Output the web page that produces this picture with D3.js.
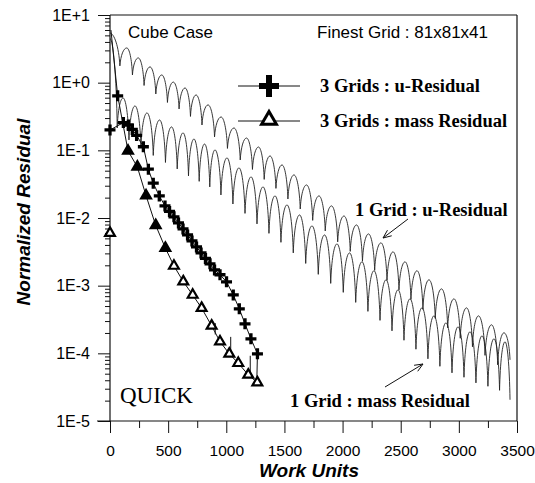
<!DOCTYPE html>
<html>
<head>
<meta charset="utf-8">
<script src="https://cdn.jsdelivr.net/npm/d3@7"></script>
<style>
  body { margin: 0; background: #fff; }
  svg { display: block; }
</style>
</head>
<body>
<svg></svg>
<script>
// axis ticks
const xTicks = [0, 500, 1000, 1500, 2000, 2500, 3000, 3500];
const xMinor = [250, 750, 1250, 1750, 2250, 2750, 3250];
const yTicks = [1e1, 1e0, 1e-1, 1e-2, 1e-3, 1e-4, 1e-5];
const yTickLabels = ['1E+1', '1E+0', '1E-1', '1E-2', '1E-3', '1E-4', '1E-5'];

// 3 grids : u-residual  [work units, residual]
const u3Pts = [[0, 0.2], [115, 0.257], [158, 0.237], [192, 0.204], [229, 0.166], [287, 0.113],
  [330, 0.0526], [372, 0.0327], [424, 0.0212], [473, 0.0151], [512, 0.0125], [550, 0.0104],
  [589, 0.00847], [628, 0.0069], [667, 0.00562], [705, 0.00459], [744, 0.00374], [783, 0.00305],
  [821, 0.00253], [860, 0.0021], [899, 0.00171], [946, 0.00145], [1002, 0.00114], [1060, 0.00073],
  [1112, 0.000454], [1161, 0.000273], [1212, 0.000164], [1268, 0.0000984]];
const u3Tail = [[1268, 0.0000984], [1262, 0.000036]];
const u3Extra = [[66, 0.64]];

// 3 grids : mass residual
const m3Pts = [[155, 0.098], [235, 0.057], [310, 0.0214], [393, 0.0078], [476, 0.0036],
  [550, 0.00196], [630, 0.00115], [711, 0.00073], [788, 0.000466], [874, 0.000255],
  [946, 0.000149], [1026, 0.0000984], [1103, 0.0000716], [1189, 0.0000481], [1267, 0.000037]];
const m3Lead = [[8, 6.0], [66, 0.64], [155, 0.098]];
const m3Extra = [[0, 0.006]];
const m3Spikes = [[905, 0.00019, 0.00028], [1038, 0.000098, 0.000175], [1206, 0.00005, 0.000092]];

// 1 grid : u-residual (oscillating) – start, dips, peaks
const u1Start = [0, 5.4];
const u1Peaks = [[144, 3.26], [243, 2.32], [344, 1.71], [445, 1.30], [544, 1.02], [645, 0.835],
  [740, 0.658], [843, 0.469], [955, 0.311], [1066, 0.214], [1174, 0.152], [1277, 0.112],
  [1376, 0.0826], [1479, 0.0608], [1582, 0.0433], [1690, 0.0308], [1797, 0.0212], [1905, 0.0151],
  [2012, 0.0107], [2120, 0.0079], [2223, 0.00582], [2330, 0.00429], [2434, 0.00316], [2537, 0.00225],
  [2640, 0.00166], [2743, 0.00122], [2851, 0.000897], [2958, 0.000638], [3066, 0.00047],
  [3169, 0.000358], [3281, 0.000264], [3388, 0.000201]];
const u1Dips = [[85, 1.77], [193, 1.30], [293, 0.909], [394, 0.681], [494, 0.510], [594, 0.409],
  [692, 0.317], [791, 0.237], [899, 0.158], [1010, 0.1067], [1120, 0.0721], [1225, 0.0522],
  [1326, 0.0372], [1427, 0.0274], [1530, 0.0191], [1636, 0.0136], [1743, 0.00922], [1851, 0.00644],
  [1958, 0.00444], [2066, 0.00321], [2171, 0.00229], [2276, 0.00168], [2382, 0.0012], [2485, 0.000867],
  [2588, 0.000628], [2691, 0.000447], [2797, 0.000329], [2904, 0.000238], [3012, 0.000167],
  [3117, 0.000125], [3225, 0.0000933], [3334, 0.0000676], [3440, 0.0000802]];

// 1 grid : mass residual (oscillating)
const m1Start = [0, 4.5];
const m1Peaks = [[112, 0.594], [215, 0.453], [318, 0.357], [426, 0.281], [529, 0.222], [628, 0.181],
  [722, 0.147], [813, 0.124], [903, 0.1014], [1006, 0.0773], [1109, 0.055], [1213, 0.0405],
  [1316, 0.0288], [1419, 0.0212], [1522, 0.0156], [1630, 0.0111], [1737, 0.00764], [1845, 0.00562],
  [1952, 0.00414], [2060, 0.00305], [2167, 0.00225], [2270, 0.00166], [2374, 0.00122], [2477, 0.000867],
  [2580, 0.000638], [2683, 0.00047], [2786, 0.000358], [2889, 0.000282], [2993, 0.000246],
  [3096, 0.000208], [3199, 0.000181], [3302, 0.000164], [3397, 0.000148]];
const m1Dips = [[62, 0.214], [163, 0.1425], [266, 0.1104], [372, 0.0841], [477, 0.0662], [578, 0.0531],
  [675, 0.0419], [767, 0.0348], [858, 0.0288], [954, 0.0219], [1057, 0.0161], [1161, 0.0117],
  [1264, 0.00818], [1367, 0.00593], [1470, 0.00437], [1576, 0.00305], [1683, 0.00213], [1791, 0.00147],
  [1898, 0.00108], [2006, 0.000796], [2113, 0.000566], [2218, 0.000417], [2322, 0.000307],
  [2425, 0.000215], [2528, 0.000156], [2631, 0.000115], [2734, 0.000083], [2837, 0.0000643],
  [2941, 0.0000515], [3044, 0.0000443], [3147, 0.0000366], [3250, 0.0000326], [3350, 0.0000284],
  [3440, 0.0000206]];

const width = 535, height = 483;
const svg = d3.select('svg').attr('width', width).attr('height', height);
svg.append('rect').attr('width', width).attr('height', height).attr('fill', '#fff');

const x = d3.scaleLinear().domain([0, 3500]).range([110, 517]);
const y = d3.scaleLog().domain([1e-5, 10]).range([421, 15]);

const sans = 'Liberation Sans, Arial, sans-serif';
const serif = 'Liberation Serif, Times New Roman, serif';

// y axis, major + minor ticks
const yMinor = [];
yTicks.slice(1).forEach(d => { for (let k = 2; k <= 9; k++) yMinor.push(d * k); });

const yAxis = svg.append('g').attr('transform', 'translate(110,0)')
  .call(d3.axisLeft(y).tickValues(yTicks).tickFormat((d, i) => yTickLabels[i]).tickSize(12).tickPadding(8));
const yAxisMinor = svg.append('g').attr('transform', 'translate(110,0)')
  .call(d3.axisLeft(y).tickValues(yMinor).tickFormat('').tickSize(5));

const xAxis = svg.append('g').attr('transform', 'translate(0,421)')
  .call(d3.axisBottom(x).tickValues(xTicks).tickFormat(d3.format('d')).tickSize(12).tickPadding(12));
const xAxisMinor = svg.append('g').attr('transform', 'translate(0,421)')
  .call(d3.axisBottom(x).tickValues(xMinor).tickFormat('').tickSize(7));

[yAxis, yAxisMinor, xAxis, xAxisMinor].forEach(g => {
  g.select('.domain').remove();
  g.selectAll('line').attr('stroke', '#111').attr('stroke-width', 1);
  g.selectAll('text').attr('font-family', sans).attr('font-size', 16).attr('fill', '#000');
});
xAxis.selectAll('text').attr('font-size', 15.5);

// frame
const frame = svg.append('g').attr('stroke', '#111').attr('stroke-width', 1.2);
frame.append('line').attr('x1', 110).attr('x2', 110).attr('y1', 15).attr('y2', 421);
frame.append('line').attr('x1', 97).attr('x2', 517).attr('y1', 421).attr('y2', 421);
frame.append('line').attr('x1', 110).attr('x2', 517).attr('y1', 15).attr('y2', 15);
frame.append('line').attr('x1', 517).attr('x2', 517).attr('y1', 15).attr('y2', 421);

// axis titles
svg.append('text').attr('x', 309).attr('y', 477).attr('text-anchor', 'middle')
  .attr('font-family', sans).attr('font-size', 19).attr('font-weight', 'bold').attr('font-style', 'italic')
  .text('Work Units');
svg.append('text').attr('transform', 'translate(30,212) rotate(-90)').attr('text-anchor', 'middle')
  .attr('font-family', sans).attr('font-size', 19).attr('font-weight', 'bold').attr('font-style', 'italic')
  .text('Normalized Residual');

// oscillating curve built from start, dips and peaks
function oscPath(start, dips, peaks) {
  const P = p => [x(p[0]), y(p[1])];
  const s = P(start), d0 = P(dips[0]);
  let path = `M${s[0]},${s[1]}C${s[0] + 0.4 * (d0[0] - s[0])},${s[1]} ${d0[0] - 0.1 * (d0[0] - s[0])},${s[1] + 0.4 * (d0[1] - s[1])} ${d0[0]},${d0[1]}`;
  peaks.forEach((pk, i) => {
    const a = P(dips[i]), p = P(pk), b = P(dips[i + 1]);
    const w1 = p[0] - a[0], h1 = p[1] - a[1];
    path += `C${a[0] + 0.12 * w1},${a[1] + 0.6 * h1} ${a[0] + 0.55 * w1},${p[1]} ${p[0]},${p[1]}`;
    const w2 = b[0] - p[0], h2 = p[1] - b[1];
    path += `C${p[0] + 0.45 * w2},${p[1]} ${p[0] + 0.88 * w2},${b[1] + 0.6 * h2} ${b[0]},${b[1]}`;
  });
  return path;
}

const curves = svg.append('g').attr('fill', 'none').attr('stroke', '#222').attr('stroke-width', 0.9);
curves.append('path').attr('d', oscPath(u1Start, u1Dips, u1Peaks));
curves.append('path').attr('d', oscPath(m1Start, m1Dips, m1Peaks));

// 3-grid lines
const line = d3.line().x(d => x(d[0])).y(d => y(d[1]));
const lines3 = svg.append('g').attr('fill', 'none').attr('stroke', '#111').attr('stroke-width', 1);
lines3.append('path').attr('d', line(u3Pts));
lines3.append('path').attr('d', line(u3Tail));
lines3.append('path').attr('d', line(m3Pts));
lines3.append('path').attr('d', line(m3Lead));
lines3.selectAll('.spike').data(m3Spikes).join('line').attr('class', 'spike')
  .attr('x1', d => x(d[0])).attr('x2', d => x(d[0]))
  .attr('y1', d => y(d[1])).attr('y2', d => y(d[2]));

// markers
const plus = r => `M${-r},0H${r}M0,${-r}V${r}`;
svg.append('g').selectAll('path').data(u3Pts.concat(u3Extra)).join('path')
  .attr('transform', d => `translate(${x(d[0])},${y(d[1])})`)
  .attr('d', plus(5.5)).attr('stroke', '#000').attr('stroke-width', 3.3).attr('fill', 'none');

const tri = d3.symbol().type(d3.symbolTriangle).size(42);
svg.append('g').selectAll('path').data(m3Pts.concat(m3Extra)).join('path')
  .attr('transform', d => `translate(${x(d[0])},${y(d[1])})`)
  .attr('d', tri())
  .attr('fill', d => d[0] < 480 && d[0] > 0 ? '#000' : '#fff')
  .attr('stroke', '#000').attr('stroke-width', 2.2);

// texts
svg.append('text').attr('x', 128).attr('y', 38).attr('font-family', sans).attr('font-size', 17).text('Cube Case');
svg.append('text').attr('x', 317).attr('y', 38).attr('font-family', sans).attr('font-size', 17).text('Finest Grid : 81x81x41');

// legend
const legendItems = ['3 Grids : u-Residual', '3 Grids : mass Residual'];
const leg = svg.append('g');
legendItems.forEach((t, i) => {
  const ly = 86 + i * 35;
  leg.append('line').attr('x1', 238).attr('x2', 300).attr('y1', ly).attr('y2', ly)
    .attr('stroke', '#111').attr('stroke-width', 1);
  if (i === 0) {
    leg.append('path').attr('transform', `translate(269,${ly})`).attr('d', 'M-10,0H10M0,-11V11')
      .attr('stroke', '#000').attr('stroke-width', 6);
  } else {
    leg.append('path').attr('transform', `translate(269,${ly - 1})`)
      .attr('d', d3.symbol().type(d3.symbolTriangle).size(95)())
      .attr('fill', '#fff').attr('stroke', '#000').attr('stroke-width', 3);
  }
  leg.append('text').attr('x', 320).attr('y', ly + 6).attr('font-family', serif)
    .attr('font-size', 18.5).attr('font-weight', 'bold').text(t);
});

// annotations
const ann = svg.append('g').attr('font-family', serif).attr('font-size', 18.5).attr('font-weight', 'bold');
ann.append('text').attr('x', 355).attr('y', 216).text('1 Grid : u-Residual');
ann.append('text').attr('x', 290).attr('y', 407).text('1 Grid : mass Residual');

function arrow(x1, y1, x2, y2) {
  const g = svg.append('g').attr('stroke', '#111').attr('stroke-width', 1).attr('fill', 'none');
  g.append('line').attr('x1', x1).attr('y1', y1).attr('x2', x2).attr('y2', y2);
  const ang = Math.atan2(y2 - y1, x2 - x1), L = 9, sp = 0.4;
  g.append('path').attr('d', `M${x2 - L * Math.cos(ang - sp)},${y2 - L * Math.sin(ang - sp)}L${x2},${y2}L${x2 - L * Math.cos(ang + sp)},${y2 - L * Math.sin(ang + sp)}`);
}
arrow(408, 219, 383, 238);
arrow(385, 387, 423, 364);

svg.append('text').attr('x', 120).attr('y', 403).attr('font-family', serif).attr('font-size', 23).text('QUICK');
</script>
</body>
</html>
